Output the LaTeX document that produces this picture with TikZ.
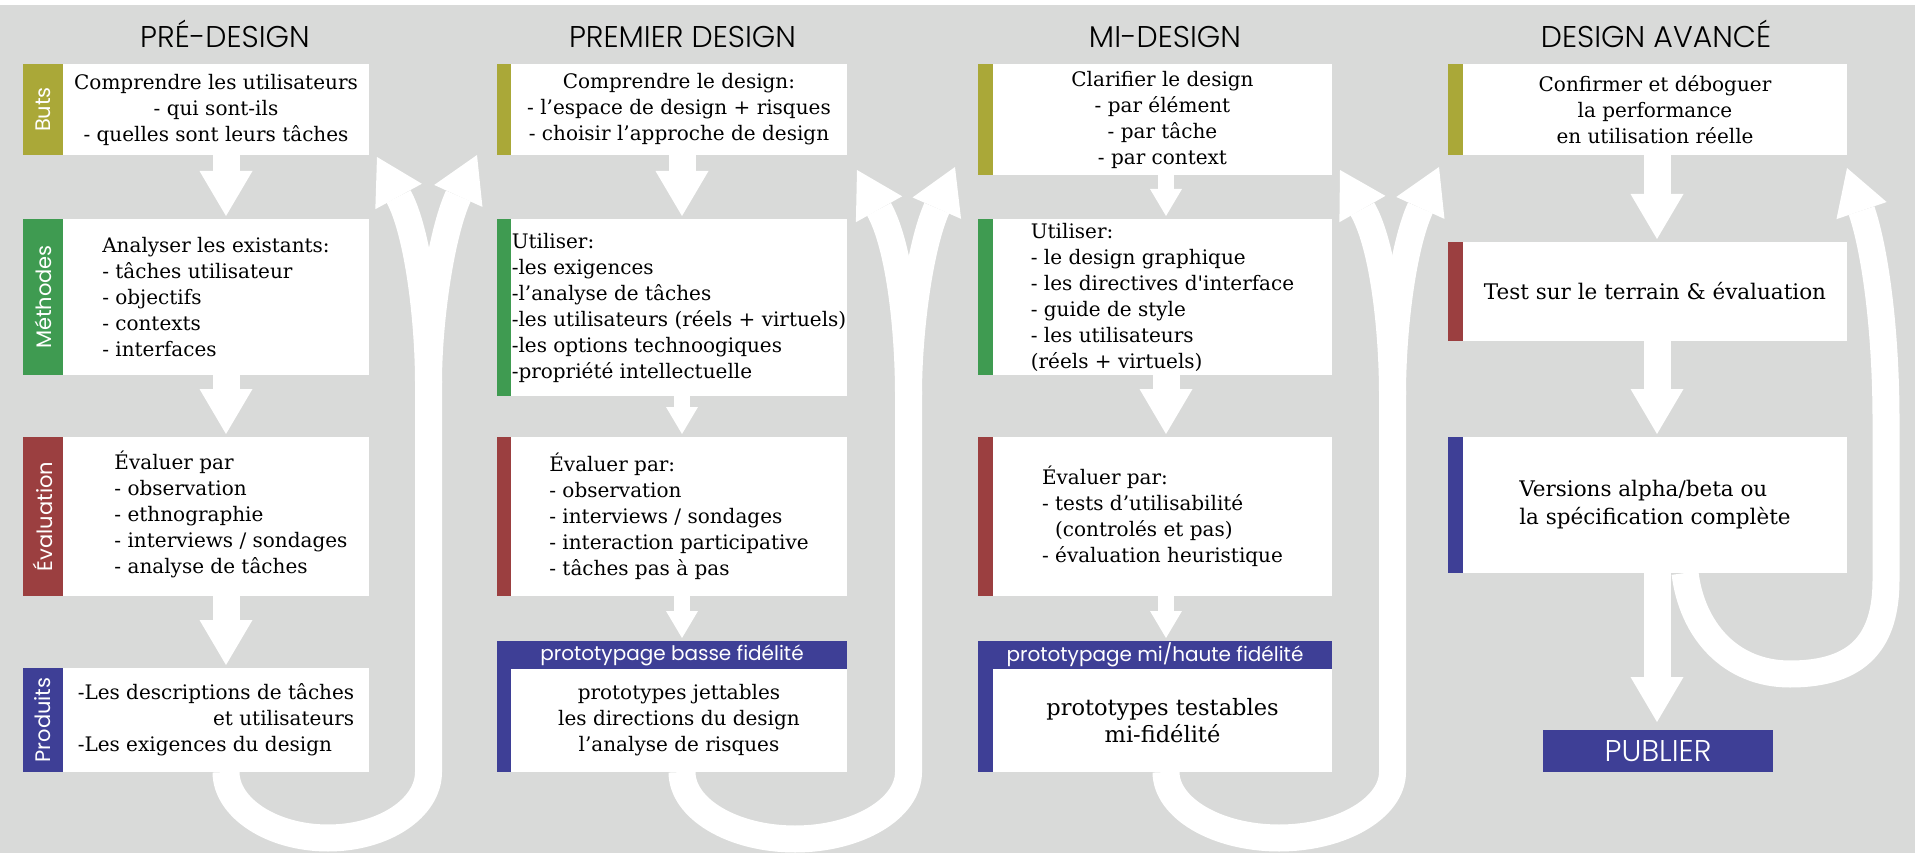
\documentclass[tikz,border=0pt]{standalone}
\usepackage{fontspec}
\setmainfont{DejaVu Serif}
\newfontfamily\titrefont{Poppins}[UprightFont=* Light]
\newfontfamily\bandefont{Poppins}
\usetikzlibrary{arrows.meta,backgrounds}
\definecolor{fondgris}{RGB}{217,218,217}
\definecolor{coulbuts}{RGB}{170,168,56}
\definecolor{coulmeth}{RGB}{63,155,81}
\definecolor{couleval}{RGB}{155,63,64}
\definecolor{coulprod}{RGB}{62,63,150}

\begin{document}
\begin{tikzpicture}[x=1pt, y=-1pt,
    boite/.style={fill=white, inner sep=0pt, outer sep=0pt, align=center, font=\fontsize{20}{26}\selectfont},
    bande/.style={inner sep=0pt, outer sep=0pt, anchor=east, text=white, font=\bandefont\fontsize{21}{26}\selectfont},
    titre/.style={anchor=base, font=\titrefont\fontsize{30}{36}\selectfont},
    entete/.style={fill=coulprod, text=white, inner sep=0pt, outer sep=0pt, minimum height=28pt, font=\bandefont\fontsize{20}{25}\selectfont},
    pointe/.style={-{Triangle[length=45pt, width=53pt, line width=0pt]}},
    grande/.style={white, line width=27pt, shorten >=3pt, pointe},
    petite/.style={white, line width=16pt, shorten >=3pt, -{Triangle[length=27pt, width=32pt, line width=0pt]}},
    boucle/.style={white, line width=27pt}]
\useasboundingbox (0,0) rectangle (1915,853);

% titres
\node[titre] (t1) at (225,48) {PRÉ-DESIGN};
\node[titre] (t2) at (682.5,48) {PREMIER DESIGN};
\node[titre] (t3) at (1165,48) {MI-DESIGN};
\node[titre] (t4) at (1656,48) {DESIGN AVANCÉ};

% colonne 1
\node[boite, minimum width=306pt, minimum height=91pt] (b1) at (216,109.5) {Comprendre les utilisateurs\\- qui sont-ils\\- quelles sont leurs tâches};
\node[bande, fill=coulbuts, minimum width=40pt, minimum height=91pt] (sb1) at (b1.west) {\rotatebox{90}{Buts}};
\node[boite, align=left, minimum width=306pt, minimum height=156pt] (m1) at (216,297) {Analyser les existants:\\- tâches utilisateur\\- objectifs\\- contexts\\- interfaces};
\node[bande, fill=coulmeth, minimum width=40pt, minimum height=156pt] (sm1) at (m1.west) {\rotatebox{90}{Méthodes}};
\node[boite, minimum width=306pt, minimum height=159pt] (e1) at (216,516.5) {\hspace*{30pt}\begin{tabular}{@{}l@{}}Évaluer par\\- observation\\- ethnographie\\- interviews / sondages\\- analyse de tâches\end{tabular}};
\node[bande, fill=couleval, minimum width=40pt, minimum height=159pt] (se1) at (e1.west) {\rotatebox{90}{Évaluation}};
\node[boite, align=left, minimum width=306pt, minimum height=104pt] (p1) at (216,720) {-Les descriptions de tâches\\\hfill et utilisateurs\\-Les exigences du design};
\node[bande, fill=coulprod, minimum width=40pt, minimum height=104pt] (sp1) at (p1.west) {\rotatebox{90}{Produits}};

% colonne 2
\node[boite, minimum width=336pt, minimum height=91pt] (b2) at (679,109.5) {Comprendre le design:\\- l’espace de design + risques\\- choisir l’approche de design};
\node[bande, fill=coulbuts, minimum width=14pt, minimum height=91pt] (sb2) at (b2.west) {};
\node[boite, align=left, minimum width=336pt, minimum height=177pt] (m2) at (679,307.5) {Utiliser:\\-les exigences\\-l’analyse de tâches\\-les utilisateurs (réels + virtuels)\\-les options technoogiques\\-propriété intellectuelle};
\node[bande, fill=coulmeth, minimum width=14pt, minimum height=177pt] (sm2) at (m2.west) {};
\node[boite, align=left, minimum width=336pt, minimum height=159pt] (e2) at (679,516.5) {Évaluer par:\\- observation\\- interviews / sondages\\- interaction participative\\- tâches pas à pas};
\node[bande, fill=couleval, minimum width=14pt, minimum height=159pt] (se2) at (e2.west) {};
\node[entete, minimum width=350pt] (h2) at (672,655) {prototypage basse fidélité};
\node[boite, minimum width=336pt, minimum height=103pt] (p2) at (679,720.5) {prototypes jettables\\les directions du design\\l’analyse de risques};
\node[bande, fill=coulprod, minimum width=14pt, minimum height=103pt] (sp2) at (p2.west) {};

% colonne 3
\node[boite, minimum width=339pt, minimum height=111pt] (b3) at (1162.5,119.5) {Clarifier le design\\- par élément\\- par tâche\\- par context};
\node[bande, fill=coulbuts, minimum width=15pt, minimum height=111pt] (sb3) at (b3.west) {};
\node[boite, align=left, minimum width=339pt, minimum height=156pt] (m3) at (1162.5,297) {Utiliser:\\- le design graphique\\- les directives d\textquotesingle interface\\- guide de style\\- les utilisateurs\\(réels + virtuels)};
\node[bande, fill=coulmeth, minimum width=15pt, minimum height=156pt] (sm3) at (m3.west) {};
\node[boite, align=left, minimum width=339pt, minimum height=159pt] (e3) at (1162.5,516.5) {Évaluer par:\\- tests d’utilisabilité\\\hphantom{- }(controlés et pas)\\- évaluation heuristique};
\node[bande, fill=couleval, minimum width=15pt, minimum height=159pt] (se3) at (e3.west) {};
\node[entete, minimum width=354pt] (h3) at (1155,655) {prototypage mi/haute fidélité};
\node[boite, minimum width=339pt, minimum height=103pt, font=\fontsize{22.5}{27}\selectfont] (p3) at (1162.5,720.5) {prototypes testables\\mi-fidélité};
\node[bande, fill=coulprod, minimum width=15pt, minimum height=103pt] (sp3) at (p3.west) {};

% colonne 4
\node[boite, minimum width=384pt, minimum height=91pt] (b4) at (1655,109.5) {Confirmer et déboguer\\la performance\\en utilisation réelle};
\node[bande, fill=coulbuts, minimum width=15pt, minimum height=91pt] (sb4) at (b4.west) {};
\node[boite, minimum width=384pt, minimum height=99pt, font=\fontsize{21.5}{26}\selectfont] (m4) at (1655,291.5) {Test sur le terrain \& évaluation};
\node[bande, fill=couleval, minimum width=15pt, minimum height=99pt] (sm4) at (m4.west) {};
\node[boite, align=left, minimum width=384pt, minimum height=136pt, font=\fontsize{21.5}{28}\selectfont] (p4) at (1655,505) {Versions alpha/beta ou\\la spécification complète};
\node[bande, fill=coulprod, minimum width=15pt, minimum height=136pt] (sp4) at (p4.west) {};
\node[entete, minimum width=230pt, minimum height=42pt, font=\titrefont\fontsize{30}{36}\selectfont] (pub) at (1658,751) {PUBLIER};

% axes des fleches
\coordinate (a1) at (226,0);
\coordinate (a2) at (682,0);
\coordinate (a3) at (1166,0);
\coordinate (a4) at (1657,0);

\draw[grande] (b1.south -| a1) -- (m1.north -| a1);
\draw[grande] (m1.south -| a1) -- (e1.north -| a1);
\draw[grande] (e1.south -| a1) -- (p1.north -| a1);
\draw[grande] (b2.south -| a2) -- (m2.north -| a2);
\draw[petite] (m2.south -| a2) -- (e2.north -| a2);
\draw[petite] (e2.south -| a2) -- (h2.north -| a2);
\draw[petite] (b3.south -| a3) -- (m3.north -| a3);
\draw[grande] (m3.south -| a3) -- (e3.north -| a3);
\draw[petite] (e3.south -| a3) -- (h3.north -| a3);
\draw[grande] (b4.south -| a4) -- (m4.north -| a4);
\draw[grande] (m4.south -| a4) -- (p4.north -| a4);
\draw[grande, shorten >=8pt] (p4.south -| a4) -- (pub.north -| a4);

% fond et boucles
\begin{scope}[on background layer]
\fill[white] (0,0) rectangle (1915,853);
\fill[fondgris] (0,5) rectangle (1915,853);
\coordinate (j1) at (428.5,383);
\coordinate (j2) at (908.5,395);
\coordinate (j3) at (1392.5,395);
\draw[boucle] (p1.south -| a1) .. controls (226,808) and (272,838) .. (328,838) .. controls (384,838) and (428.5,808) .. (428.5,772) -- (j1);
\draw[boucle, pointe] (j1) .. controls (428.5,320) and (418,232) .. (377,157);
\draw[boucle, pointe] (j1) .. controls (428.5,320) and (441,234) .. (477,155);
\draw[boucle] (p2.south -| a2) .. controls (682,809) and (733,839) .. (795,839) .. controls (857,839) and (908.5,809) .. (908.5,772) -- (j2);
\draw[boucle, pointe] (j2) .. controls (908.5,330) and (899.6,246) .. (857,170);
\draw[boucle, pointe] (j2) .. controls (908.5,330) and (919.8,246.6) .. (955,167);
\draw[boucle] (p3.south -| a3) .. controls (1166,808) and (1216.6,838) .. (1279,838) .. controls (1341.4,838) and (1392.5,808) .. (1392.5,772) -- (j3);
\draw[boucle, pointe] (j3) .. controls (1392.5,330) and (1383.4,245.7) .. (1340,170);
\draw[boucle, pointe] (j3) .. controls (1392.5,330) and (1402.4,247.4) .. (1439,167);
\draw[boucle, pointe] ([xshift=30pt]p4.south) .. controls (1692,630) and (1730,674) .. (1790,674) .. controls (1860,674) and (1886,640) .. (1886,580) -- (1886,420) .. controls (1886,330) and (1875,250) .. (1847,168);
\end{scope}
\end{tikzpicture}
\end{document}
